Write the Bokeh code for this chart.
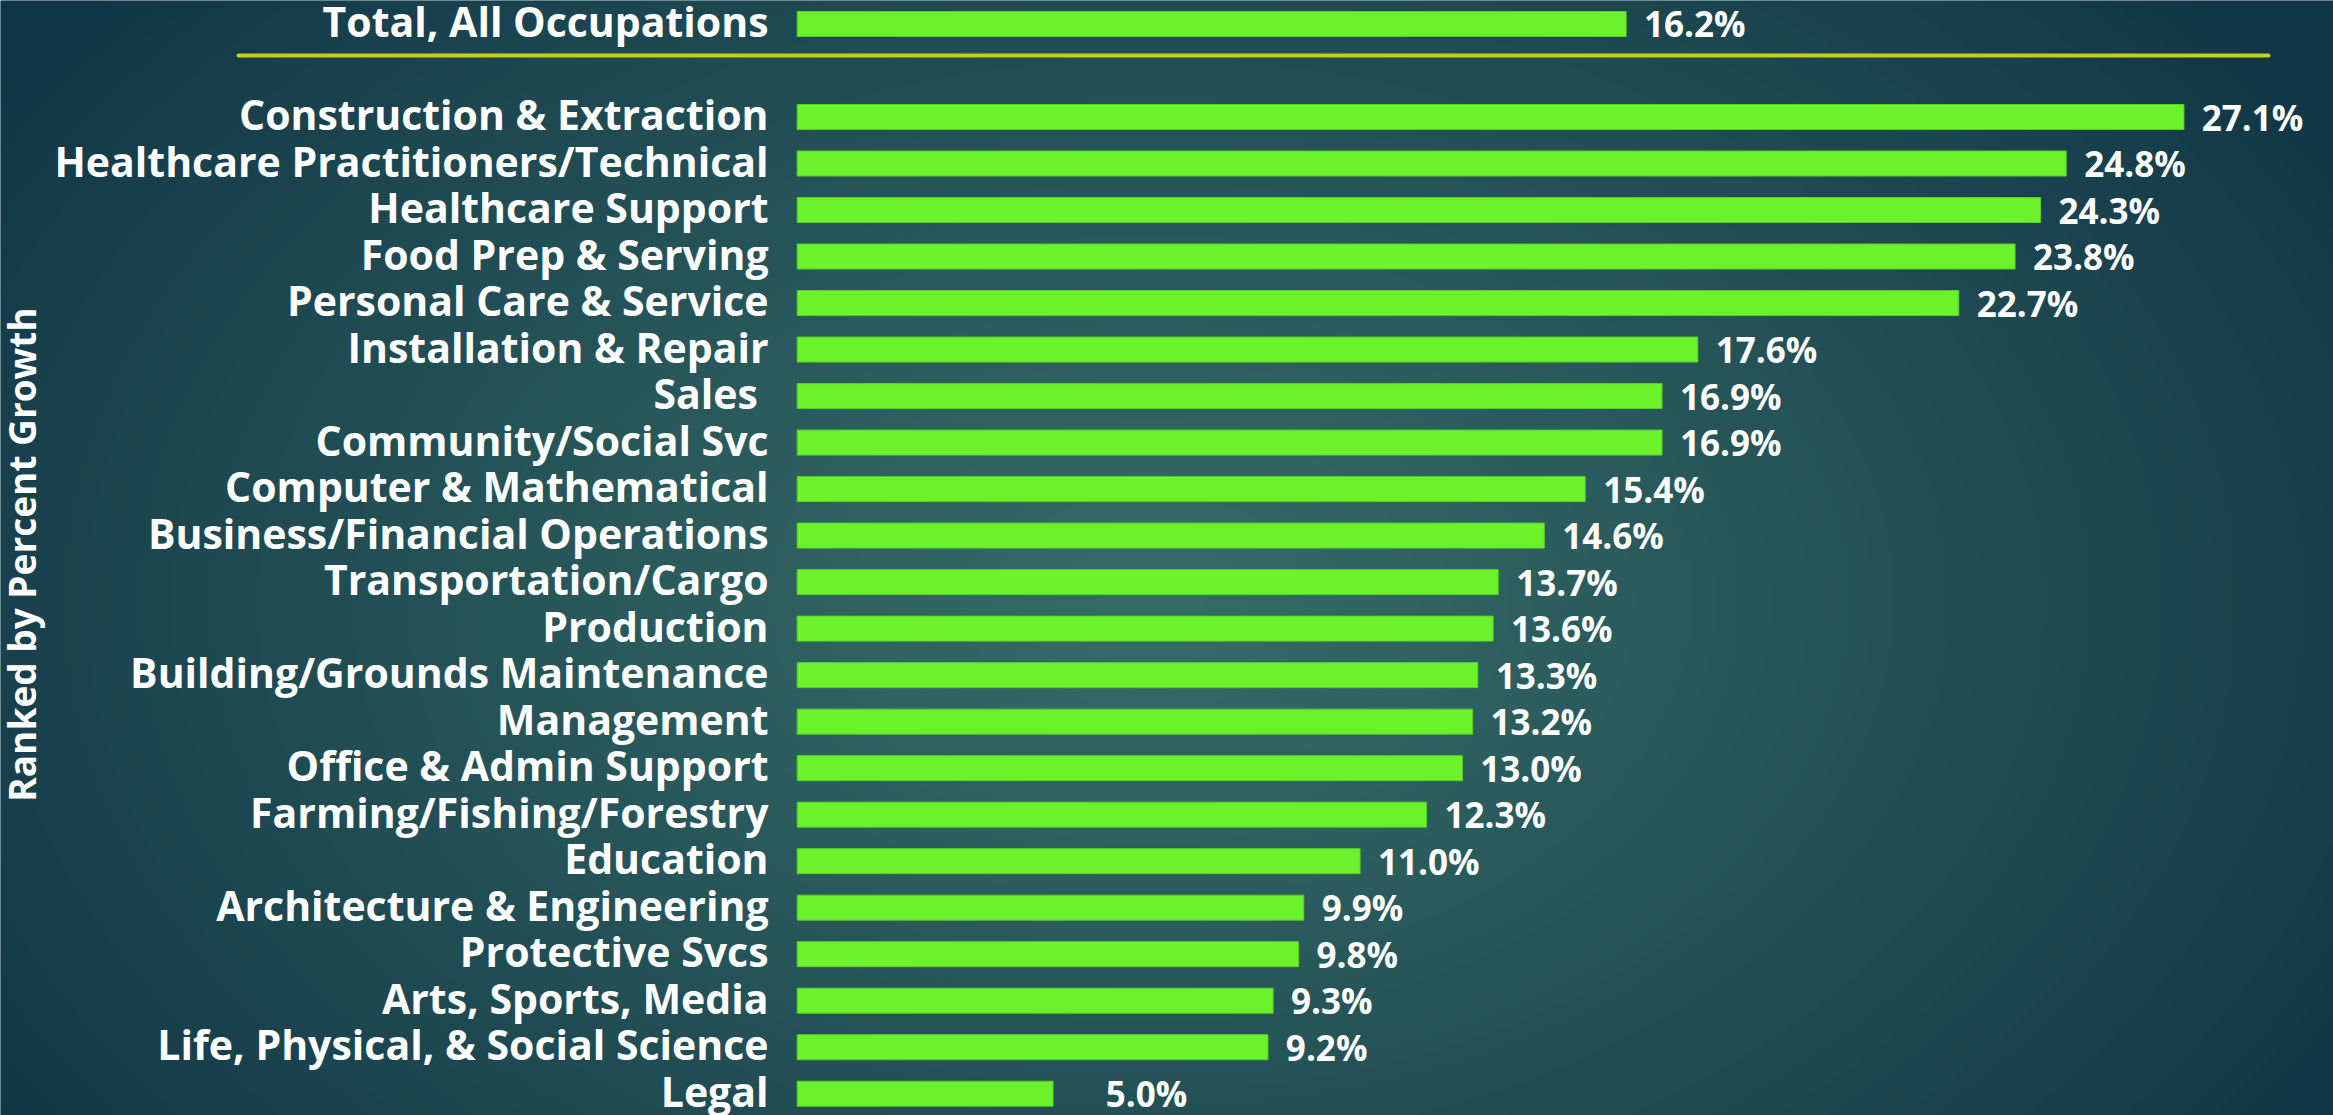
import numpy as np
from bokeh.plotting import figure
from bokeh.models import Range1d, ColumnDataSource
from bokeh.core.properties import value
from bokeh.embed import file_html
from bokeh.resources import INLINE

# ---------------- data ----------------
total_label = "Total, All Occupations"
total_value = 16.2

categories = [
    "Construction & Extraction",
    "Healthcare Practitioners/Technical",
    "Healthcare Support",
    "Food Prep & Serving",
    "Personal Care & Service",
    "Installation & Repair",
    "Sales ",
    "Community/Social Svc",
    "Computer & Mathematical",
    "Business/Financial Operations",
    "Transportation/Cargo",
    "Production",
    "Building/Grounds Maintenance",
    "Management",
    "Office & Admin Support",
    "Farming/Fishing/Forestry",
    "Education",
    "Architecture & Engineering",
    "Protective Svcs",
    "Arts, Sports, Media",
    "Life, Physical, & Social Science",
    "Legal",
]
growth = [27.1, 24.8, 24.3, 23.8, 22.7, 17.6, 16.9, 16.9, 15.4, 14.6, 13.7,
          13.6, 13.3, 13.2, 13.0, 12.3, 11.0, 9.9, 9.8, 9.3, 9.2, 5.0]
axis_title = "Ranked by Percent Growth"

# ---------------- layout ----------------
W, H = 2333, 1115
PX_PER_UNIT_X = 51.17
PX_PER_ROW = 46.51
x0 = -796.7 / PX_PER_UNIT_X
x1 = x0 + W / PX_PER_UNIT_X
y_top = -116.5 / PX_PER_ROW
y_bot = y_top + H / PX_PER_ROW

FONT = "Open Sans"
BAR_COLOR = "#6cf22c"

p = figure(width=W, height=H, output_backend="svg", toolbar_location=None,
           x_range=Range1d(x0, x1), y_range=Range1d(y_bot, y_top),
           x_axis_location=None, y_axis_location=None, min_border=0,
           tools="")
p.grid.visible = False
p.outline_line_color = None
p.background_fill_color = "#1c4a55"
p.border_fill_color = "#1c4a55"

# background radial gradient (decoration)
gh, gw = H // 4 + 1, W // 4 + 1
yy, xx = np.mgrid[0:gh, 0:gw].astype(float)
xx *= 4.0
yy = (gh - 1 - yy) * 4.0
cx, cy, rx, ry = 1150.0, 600.0, 1400.0, 950.0
t = np.sqrt(((xx - cx) / rx) ** 2 + ((yy - cy) / ry) ** 2)
t = np.clip(t, 0, 1) ** 1.1
c0 = np.array([54, 108, 103], float)
c1 = np.array([17, 54, 71], float)
rgb = c0[None, None, :] * (1 - t[..., None]) + c1[None, None, :] * t[..., None]
img = np.empty((gh, gw), dtype=np.uint32)
view = img.view(dtype=np.uint8).reshape((gh, gw, 4))
view[..., 0] = rgb[..., 0].astype(np.uint8)
view[..., 1] = rgb[..., 1].astype(np.uint8)
view[..., 2] = rgb[..., 2].astype(np.uint8)
view[..., 3] = 255
p.image_rgba(image=[img[::-1]], x=x0, y=y_top, dw=x1 - x0, dh=y_bot - y_top,
             dw_units="data", dh_units="data")

# rows
ys = list(range(len(categories)))
total_y = -2
lift = 3 / PX_PER_ROW  # small upward nudge of category labels
src = ColumnDataSource(dict(
    cat=categories, val=growth, y=ys,
    ty=[y - lift for y in ys],
    lab=[f"{v:.1f}%" for v in growth],
))
pad = [0.35] * len(categories)
pad[-1] = 1.03
src.data["lx"] = [v + d for v, d in zip(growth, pad)]

bar_h = 25 / PX_PER_ROW
p.hbar(y="y", right="val", left=0, height=bar_h, source=src,
       fill_color=BAR_COLOR, line_color="#5ccf26", line_width=1)
p.hbar(y=[total_y], right=[total_value], left=0, height=bar_h,
       fill_color=BAR_COLOR, line_color="#5ccf26", line_width=1)

# separator line
sep_y = y_top + 55 / PX_PER_ROW
p.segment(x0=[x0 + 238 / PX_PER_UNIT_X], x1=[x0 + 2268 / PX_PER_UNIT_X],
          y0=[sep_y], y1=[sep_y], line_color="#c4cf17", line_width=4,
          line_cap="round")

lab_x = -0.56
p.text(x=lab_x, y="ty", text="cat", source=src, text_align="right",
       text_baseline="middle", text_color="white", text_font=value(FONT),
       text_font_style="bold", text_font_size="41px")
p.text(x=[lab_x], y=[total_y - lift], text=[total_label], text_align="right",
       text_baseline="middle", text_color="white", text_font=value(FONT),
       text_font_style="bold", text_font_size="41px")

p.text(x="lx", y="y", text="lab", source=src, text_align="left",
       text_baseline="middle", text_color="white", text_font=value(FONT),
       text_font_style="bold", text_font_size="35px")
p.text(x=[total_value + 0.35], y=[total_y], text=[f"{total_value:.1f}%"],
       text_align="left", text_baseline="middle", text_color="white",
       text_font=value(FONT), text_font_style="bold", text_font_size="35px")

p.text(x=[x0 + 21 / PX_PER_UNIT_X], y=[y_top + 554 / PX_PER_ROW],
       text=[axis_title], angle=np.pi / 2, text_align="center",
       text_baseline="middle", text_color="white", text_font=value(FONT),
       text_font_style="bold", text_font_size="37px")

open("out.html", "w").write(file_html(p, INLINE))
